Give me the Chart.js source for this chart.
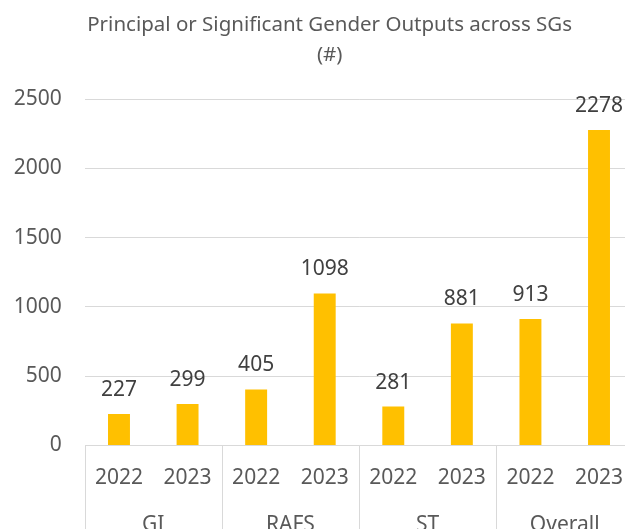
<!DOCTYPE html>
<html>
<head>
<meta charset="utf-8">
<script src="https://cdn.jsdelivr.net/npm/chart.js@4.4.1/dist/chart.umd.min.js"></script>
<style>
  html, body { margin: 0; padding: 0; background: #fff; overflow: hidden; }
  #wrap { width: 640px; height: 550px; }
</style>
</head>
<body>
<div id="wrap"><canvas id="myChart" width="640" height="550"></canvas></div>
<script>
const anos = ['2022', '2023', '2022', '2023', '2022', '2023', '2022', '2023'];
const grupos = ['GI', 'RAFS', 'ST', 'Overall'];
const valores = [227, 299, 405, 1098, 281, 881, 913, 2278];
const ticksY = [0, 500, 1000, 1500, 2000, 2500];
const titulo = ['Principal or Significant Gender Outputs across SGs', '(#)'];

const FONTE = 'Noto Sans';
const CINZA = '#595959';
const GRADE = '#d9d9d9';

// rotulos em cima das barras
const rotulosPlugin = {
  id: 'rotulos',
  afterDatasetsDraw(chart) {
    const { ctx } = chart;
    const meta = chart.getDatasetMeta(0);
    ctx.save();
    ctx.font = `21px "${FONTE}"`;
    ctx.fillStyle = '#404040';
    ctx.textAlign = 'center';
    ctx.textBaseline = 'alphabetic';
    meta.data.forEach((bar, i) => {
      ctx.fillText(String(valores[i]), bar.x, bar.y - 18);
    });
    ctx.restore();
  }
};

// divisorias entre grupos no eixo x
const divisoriasPlugin = {
  id: 'divisorias',
  afterDraw(chart) {
    const { ctx, chartArea } = chart;
    const x = chart.scales.x;
    const passo = x.width / anos.length;
    ctx.save();
    ctx.strokeStyle = GRADE;
    ctx.lineWidth = 1;
    for (let i = 0; i <= anos.length; i += 2) {
      const px = Math.round(x.left + passo * i) + 0.5;
      ctx.beginPath();
      ctx.moveTo(px, chartArea.bottom);
      ctx.lineTo(px, chart.height);
      ctx.stroke();
    }
    ctx.restore();
  }
};

// titulo um pouco deslocado p/ direita (como no excel)
const tituloPlugin = {
  id: 'tituloDesloc',
  afterLayout(chart) {
    if (chart.titleBlock) chart.titleBlock.left = 26;
  }
};

const ctx = document.getElementById('myChart').getContext('2d');
new Chart(ctx, {
  type: 'bar',
  data: {
    labels: anos,
    datasets: [{
      data: valores,
      backgroundColor: '#FFC000',
      borderWidth: 0,
      categoryPercentage: 1,
      barPercentage: 0.32
    }]
  },
  options: {
    responsive: false,
    animation: false,
    layout: { padding: { left: 0, right: 6.7, top: 0, bottom: 0 } },
    plugins: {
      legend: { display: false },
      tooltip: { enabled: false },
      title: {
        display: true,
        text: titulo,
        color: CINZA,
        font: { family: FONTE, size: 20.5, weight: 'normal', lineHeight: 1.42 },
        padding: { top: 11, bottom: 30 }
      }
    },
    scales: {
      y: {
        min: 0,
        max: 2500,
        afterBuildTicks: s => { s.ticks = ticksY.map(v => ({ value: v })); },
        afterFit: s => { s.width = 84.7; },
        border: { display: false },
        grid: { color: GRADE, drawTicks: false },
        ticks: { color: CINZA, font: { family: FONTE, size: 21 }, padding: 23, callback: v => String(v) }
      },
      x: {
        weight: 0,
        offset: true,
        afterFit: s => { s.height = 52; },
        border: { display: false },
        grid: { display: false },
        ticks: { color: CINZA, font: { family: FONTE, size: 21 }, padding: 12, maxRotation: 0, autoSkip: false }
      },
      x2: {
        type: 'category',
        position: 'bottom',
        weight: 1,
        labels: grupos,
        offset: true,
        afterFit: s => { s.height = 52.5; },
        border: { display: false },
        grid: { display: false },
        ticks: { color: CINZA, font: { family: FONTE, size: 21 }, padding: 7, maxRotation: 0, autoSkip: false }
      }
    }
  },
  plugins: [rotulosPlugin, divisoriasPlugin, tituloPlugin]
});
</script>
</body>
</html>
